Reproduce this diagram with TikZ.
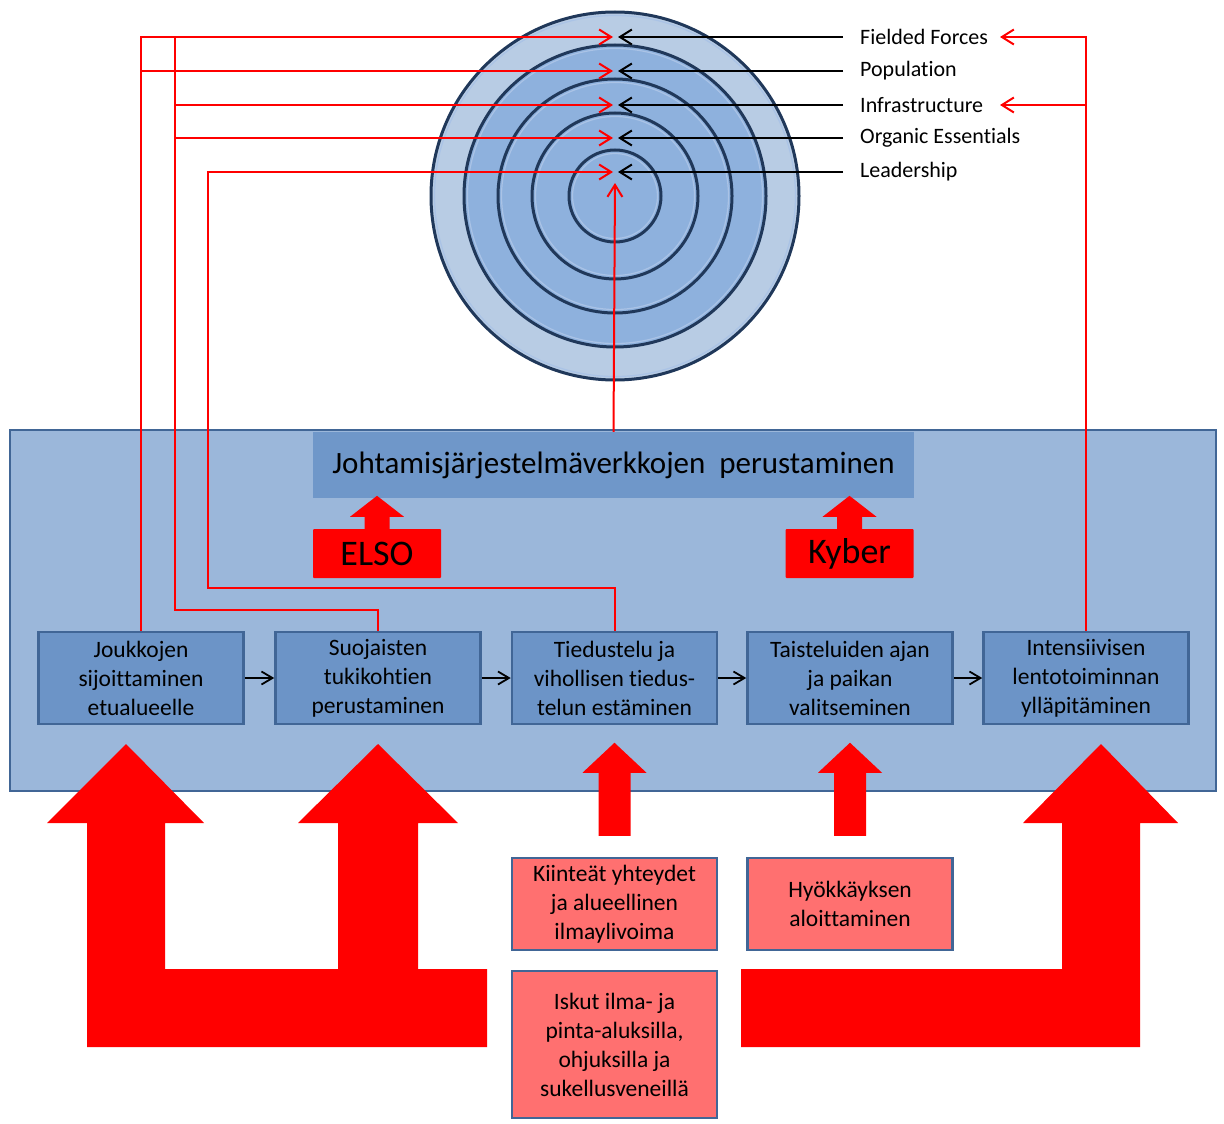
\documentclass[tikz,border=0pt]{standalone}
\usepackage{fontspec}
\setmainfont{Carlito}[Ligatures={NoCommon,NoContextual,NoRequired,NoRare}]
\usepackage{tikz}
\usetikzlibrary{arrows.meta}
\definecolor{edgeblue}{RGB}{65,102,150}
\definecolor{boxblue}{RGB}{108,148,199}
\definecolor{panelblue}{RGB}{155,183,218}
\definecolor{titleblue}{RGB}{111,151,201}
\definecolor{pinkfill}{RGB}{255,112,112}
\definecolor{ringlight}{RGB}{184,204,228}
\definecolor{ringmid}{RGB}{142,177,221}
\definecolor{ringdark}{RGB}{32,56,90}
\definecolor{ringhi}{RGB}{170,195,230}

\begin{document}
\begin{tikzpicture}[x=1pt,y=-1pt,
	stepbox/.style={draw=edgeblue,line width=2.5pt,fill=boxblue,minimum width=205pt,minimum height=92pt,align=center,inner sep=0pt,font=\fontsize{23.5}{29}\selectfont},
	pinkbox/.style={stepbox,fill=pinkfill},
	lbl/.style={anchor=west,inner sep=0pt,font=\fontsize{22}{26}\selectfont},
	redbox/.style={fill=red,minimum width=128pt,minimum height=49pt,inner sep=0pt,rounded corners=1pt,font=\fontsize{36}{42}\selectfont},
	redline/.style={draw=red,line width=2pt},
	redarr/.style={redline,-{Straight Barb[length=12pt,width=15pt,line width=2pt]}},
	blkarr/.style={draw=black,line width=2pt,-{Straight Barb[length=12pt,width=15pt,line width=2pt]}},
	flowarr/.style={draw=black,line width=1.8pt,-{Straight Barb[length=11pt,width=13pt,line width=1.8pt]}}]

	\useasboundingbox (0,0) rectangle (1224,1124);

	\coordinate (ctr) at (615,196);
	\fill[ringlight] (ctr) circle (184);
	\draw[ringdark,line width=3pt] (ctr) circle (184);
	\draw[ringhi,line width=1.2pt] (ctr) circle (180.5);
	\fill[ringmid] (ctr) circle (151);
	\draw[ringdark,line width=3pt] (ctr) circle (151);
	\draw[ringhi,line width=1.2pt] (ctr) circle (147.5);
	\draw[ringdark,line width=3pt] (ctr) circle (117);
	\draw[ringhi,line width=1.2pt] (ctr) circle (113.5);
	\draw[ringdark,line width=3pt] (ctr) circle (83);
	\draw[ringhi,line width=1.2pt] (ctr) circle (79.5);
	\draw[ringdark,line width=3pt] (ctr) circle (46);
	\draw[ringhi,line width=1.2pt] (ctr) circle (42.5);

	\coordinate (ffR) at (613,37);
	\coordinate (popR) at (613,71);
	\coordinate (infR) at (613,105);
	\coordinate (orgR) at (613,138);
	\coordinate (ldrR) at (613,172);
	\coordinate (ffB) at (618,37);
	\coordinate (popB) at (618,71);
	\coordinate (infB) at (618,105);
	\coordinate (orgB) at (618,138);
	\coordinate (ldrB) at (618,172);
	\coordinate (ldrU) at (615,183);
	\coordinate (ffL) at (1000,37);
	\coordinate (infL) at (1000,105);

	\node[lbl] (ff) at (860,37) {Fielded Forces};
	\node[lbl] (pop) at (860,71) {Population};
	\node[lbl] (inf) at (860,105) {Infrastructure};
	\node[lbl] (org) at (860,138) {Organic Essentials};
	\node[lbl] (ldr) at (860,172) {Leadership};

	\draw[blkarr] ([xshift=-17pt]ff.west) -- (ffB);
	\draw[blkarr] ([xshift=-17pt]pop.west) -- (popB);
	\draw[blkarr] ([xshift=-17pt]inf.west) -- (infB);
	\draw[blkarr] ([xshift=-17pt]org.west) -- (orgB);
	\draw[blkarr] ([xshift=-17pt]ldr.west) -- (ldrB);

	\node[draw=edgeblue,line width=2.5pt,fill=panelblue,minimum width=1206pt,minimum height=361pt] (panel) at (613,610.5) {};
	\node[fill=titleblue,minimum width=601pt,minimum height=66pt,inner sep=0pt,font=\fontsize{31}{36}\selectfont] (title) at (613.5,465) {Johtamisjärjestelmäverkkojen\ \ perustaminen};

	\node[redbox] (elso) at (377,553.5) {ELSO};
	\node[redbox] (kyber) at (849.5,553.5) {Kyber};
	\fill[red] (elso.north) ++(-12.5,1) -- ++(0,-13) -- ++(-14.5,0) -- ++(27,-21) -- ++(27,21) -- ++(-14.5,0) -- ++(0,13) -- cycle;
	\fill[red] (kyber.north) ++(-12.5,1) -- ++(0,-13) -- ++(-14.5,0) -- ++(27,-21) -- ++(27,21) -- ++(-14.5,0) -- ++(0,13) -- cycle;

	\node[stepbox] (s1) at (141,678) {Joukkojen\\sijoittaminen\\etualueelle};
	\node[stepbox] (s2) at (378,678) {Suojaisten\\tukikohtien\\perustaminen};
	\node[stepbox] (s3) at (614.5,678) {Tiedustelu ja\\vihollisen tiedus-\\telun estäminen};
	\node[stepbox] (s4) at (850,678) {Taisteluiden ajan\\ja paikan\\valitseminen};
	\node[stepbox] (s5) at (1086,678) {Intensiivisen\\lentotoiminnan\\ylläpitäminen};

	\draw[flowarr] (s1) -- (s2);
	\draw[flowarr] (s2) -- (s3);
	\draw[flowarr] (s3) -- (s4);
	\draw[flowarr] (s4) -- (s5);

	\draw[redarr] (s1.north) |- (ffR);
	\draw[redarr] (s1.north |- popR) -- (popR);
	\coordinate (j2) at (175,610);
	\draw[redline] (s2.north) |- (j2) -- (j2 |- ffR);
	\draw[redarr] (j2 |- infR) -- (infR);
	\draw[redarr] (j2 |- orgR) -- (orgR);
	\coordinate (j3) at (208,588);
	\draw[redarr] (s3.north) |- (j3) |- (ldrR);
	\draw[redarr] (title.north) -- (ldrU);
	\draw[redarr] (s5.north) |- (ffL);
	\draw[redarr] (s5.north |- infL) -- (infL);

	\fill[red] (87,1047) -- (87,823) -- (47,823) -- (126,744) -- (204,823) -- (165,823) -- (165,969) -- (338,969) -- (338,823) -- (298,823) -- (378,744) -- (458,823) -- (418,823) -- (418,969) -- (487,969) -- (487,1047) -- cycle;
	\fill[red] (741,969) -- (1062,969) -- (1062,823) -- (1023,823) -- (1101,744) -- (1178,823) -- (1140,823) -- (1140,1047) -- (741,1047) -- cycle;

	\node[pinkbox] (kiin) at (614.5,904) {Kiinteät yhteydet\\ja alueellinen\\ilmaylivoima};
	\node[pinkbox] (hyok) at (850,904) {Hyökkäyksen\\aloittaminen};
	\node[pinkbox,minimum height=147pt] (isku) at (614.5,1044.5) {Iskut ilma- ja\\pinta-aluksilla,\\ohjuksilla ja\\sukellusveneillä};

	\fill[red] (kiin.north) ++(-16,-21) -- ++(0,-63) -- ++(-16,0) -- ++(32,-30) -- ++(32,30) -- ++(-16,0) -- ++(0,63) -- cycle;
	\fill[red] (hyok.north) ++(-16,-21) -- ++(0,-63) -- ++(-16,0) -- ++(32,-30) -- ++(32,30) -- ++(-16,0) -- ++(0,63) -- cycle;

\end{tikzpicture}
\end{document}
